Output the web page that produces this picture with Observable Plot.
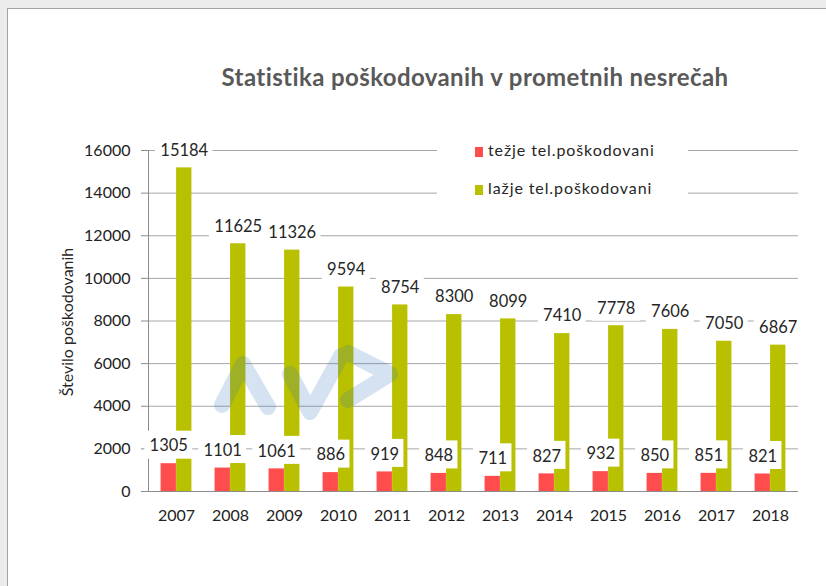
<!DOCTYPE html>
<html>
<head>
<meta charset="utf-8">
<script src="https://cdn.jsdelivr.net/npm/d3@7"></script>
<script src="https://cdn.jsdelivr.net/npm/@observablehq/plot@0.6"></script>
<style>
  html, body { margin: 0; padding: 0; background: #ececec; }
  #wrap { position: relative; width: 826px; height: 586px; overflow: hidden; background: #ececec; font-family: Lato, "DejaVu Sans", sans-serif; }
  #sheet { position: absolute; left: 7px; top: 8px; width: 840px; height: 600px; background: #fff; border-left: 1px solid #a3a3a3; border-top: 1px solid #a3a3a3; }
  #chart { position: absolute; left: 0; top: 0; }
  #title { position: absolute; left: 125px; width: 700px; top: 62px; text-align: center; font: bold 24px Lato, sans-serif; letter-spacing: 0.4px; color: #595959; line-height: 30px; white-space: nowrap; }
  #ylabel { position: absolute; left: 66px; top: 322px; transform: translate(-50%, -50%) rotate(-90deg); font: 16px Lato, sans-serif; color: #262626; white-space: nowrap; }
  #legend { position: absolute; left: 437px; top: 133px; width: 251px; height: 72px; background: #fff; }
  .item { position: absolute; left: 38px; height: 20px; line-height: 20px; font: 16px Lato, sans-serif; letter-spacing: 0.9px; color: #262626; white-space: nowrap; }
  .sw { display: inline-block; width: 8px; height: 10px; margin-right: 5px; vertical-align: -1px; }
  #wm { position: absolute; left: 0; top: 0; pointer-events: none; }
</style>
</head>
<body>
<div id="wrap">
  <div id="sheet"></div>
  <div id="chart"></div>
  <svg id="wm" width="826" height="586">
    <g opacity="0.2" fill="none" stroke="rgb(50,115,190)" stroke-width="16" stroke-linecap="round" stroke-linejoin="round">
      <path d="M222,405 L243,364 L268,407"/>
      <path d="M290,374 L310,412 L341,356"/>
      <path d="M348,353 L390,374 L348,400"/>
    </g>
  </svg>
  <div id="title">Statistika poškodovanih v prometnih nesrečah</div>
  <div id="ylabel">Število poškodovanih</div>
  <div id="legend"></div>
</div>
<script>
// ---- data ----
const years = ["2007","2008","2009","2010","2011","2012","2013","2014","2015","2016","2017","2018"];
const tezje = [1305, 1101, 1061, 886, 919, 848, 711, 827, 932, 850, 851, 821];
const lazje = [15184, 11625, 11326, 9594, 8754, 8300, 8099, 7410, 7778, 7606, 7050, 6867];
const yTicks = [0, 2000, 4000, 6000, 8000, 10000, 12000, 14000, 16000];
const seriesNames = ["težje tel.poškodovani", "lažje tel.poškodovani"];
const seriesColors = ["#ff4d4d", "#b9c000"];

// ---- layout / style ----
const W = 826, H = 586;
const mL = 148, mR = 28, mT = 150, mB = 95;
const BAR_W = 15.5;
const LABEL_DY = -17.5;
const DIGIT_W = 9.6;
const bw = (W - mL - mR) / years.length;

const rows = years.flatMap((year, i) => [
  {year, series: seriesNames[0], value: tezje[i], side: -1},
  {year, series: seriesNames[1], value: lazje[i], side: 1}
]);
const red = rows.filter(d => d.side < 0);
const green = rows.filter(d => d.side > 0);

function axisLine(index, scales) {
  const sy = scales.y;
  const g = d3.create("svg:g");
  g.append("line")
    .attr("x1", mL + 0.5).attr("x2", mL + 0.5)
    .attr("y1", sy(yTicks[0])).attr("y2", sy(yTicks[yTicks.length - 1]))
    .attr("stroke", "#8c8c8c");
  return g.node();
}

function labelBoxes(index, scales) {
  const sx = scales.x, sy = scales.y;
  const b = typeof sx.bandwidth === "function" ? sx.bandwidth() : bw;
  const g = d3.create("svg:g").attr("fill", "#fff");
  for (const d of rows) {
    const cx = sx(d.year) + b / 2 + d.side * BAR_W / 2;
    const cy = sy(d.value) + LABEL_DY;
    const w = (String(d.value).length + 1) * DIGIT_W;
    g.append("rect").attr("x", cx - w / 2).attr("y", cy - 15).attr("width", w).attr("height", 28);
  }
  return g.node();
}

const chart = Plot.plot({
  width: W,
  height: H,
  marginLeft: mL, marginRight: mR, marginTop: mT, marginBottom: mB,
  style: {background: "transparent", fontFamily: "Lato, sans-serif", overflow: "visible"},
  x: {type: "band", domain: years, padding: 0, label: null},
  y: {domain: [0, 16000], label: null},
  marks: [
    Plot.gridY(yTicks.slice(1), {stroke: "#a6a6a6", strokeOpacity: 1}),
    Plot.axisY(yTicks, {tickSize: 7, tickPadding: 11, stroke: "#8c8c8c", fill: "#222", fontSize: 16, tickFormat: d => String(d), label: null}),
    axisLine,
    Plot.barY(red, {x: "year", y: "value", fill: seriesColors[0], insetLeft: bw / 2 - BAR_W, insetRight: bw / 2}),
    Plot.barY(green, {x: "year", y: "value", fill: seriesColors[1], insetLeft: bw / 2, insetRight: bw / 2 - BAR_W}),
    labelBoxes,
    Plot.text(red, {x: "year", y: "value", text: d => String(d.value), dx: -BAR_W / 2, dy: LABEL_DY, fontSize: 16.5, fill: "#262626", lineAnchor: "middle", textAnchor: "middle"}),
    Plot.text(green, {x: "year", y: "value", text: d => String(d.value), dx: BAR_W / 2, dy: LABEL_DY, fontSize: 16.5, fill: "#262626", lineAnchor: "middle", textAnchor: "middle"}),
    Plot.ruleY([0], {stroke: "#8c8c8c"}),
    Plot.axisX({tickSize: 0, tickPadding: 18, fontSize: 16, fill: "#222", label: null})
  ]
});
document.getElementById("chart").appendChild(chart);

// legend
const legend = document.getElementById("legend");
seriesNames.forEach((name, i) => {
  const it = document.createElement("div");
  it.className = "item";
  it.style.top = (7 + i * 38) + "px";
  it.innerHTML = `<span class="sw" style="background:${seriesColors[i]}"></span>${name}`;
  legend.appendChild(it);
});
</script>
</body>
</html>
